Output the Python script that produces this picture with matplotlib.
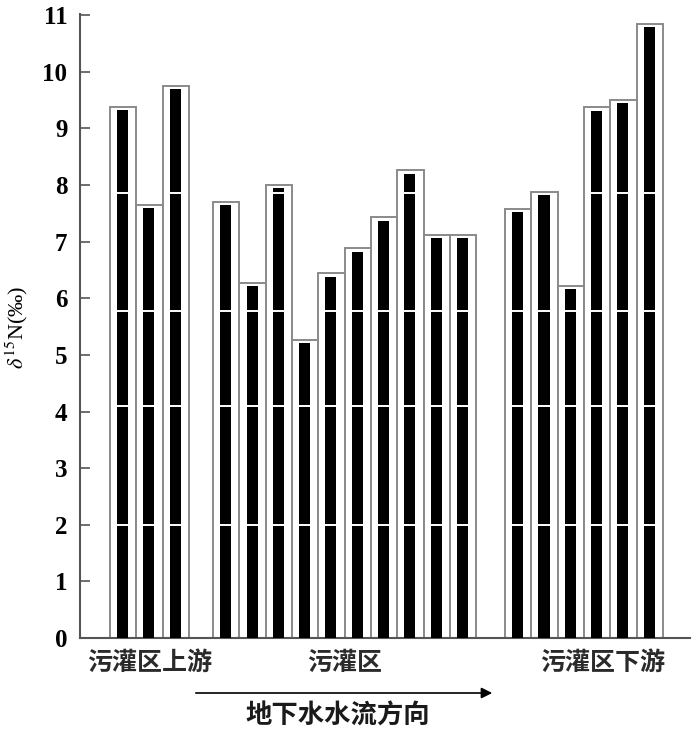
import numpy as np
import matplotlib
matplotlib.use('Agg')
import matplotlib.pyplot as plt

# δ15N 数值（按地下水流向排列）
upstream = [9.38, 7.65, 9.75]
irrigated = [7.70, 6.27, 8.00, 5.27, 6.44, 6.88, 7.43, 8.26, 7.12, 7.12]
downstream = [7.58, 7.88, 6.22, 9.37, 9.50, 10.85]
group_names = ['污灌区上游', '污灌区', '污灌区下游']
y_ticks = list(range(0, 12))

# 扫描图里的白色横线
scan_lines = [7.86, 5.77, 4.09, 2.0]

plt.rcParams['font.family'] = ['Liberation Serif', 'DejaVu Serif']
plt.rcParams['mathtext.fontset'] = 'stix'
cjk = ['Noto Sans CJK SC', 'DejaVu Sans']

fig = plt.figure(figsize=(7, 7.32), dpi=100)
ax = fig.add_axes([80/700, 94/732, 610/700, 624/732])

starts = [0.0, 3.92, 15.02]
xs, hs = [], []
for s, g in zip(starts, [upstream, irrigated, downstream]):
    xs += list(s + np.arange(len(g)))
    hs += g
xs = np.array(xs)
hs = np.array(hs)

ax.bar(xs, hs, width=1.0, color='white', edgecolor='#8a8a8a', linewidth=1.4, zorder=2)
ax.bar(xs - 0.02, hs - 0.06, width=0.42, color='black', linewidth=0, zorder=3)
for x, h in zip(xs, hs):
    lv = [v for v in scan_lines if v < h - 0.1]
    ax.hlines(lv, x - 0.25, x + 0.21, colors='white', linewidth=1.4, zorder=4)

ax.set_xlim(-1.64, 21.55)
ax.set_ylim(0, 11.02)
ax.set_yticks(y_ticks)
ax.set_xticks([])
for sp in ['top', 'right']:
    ax.spines[sp].set_visible(False)
for sp in ['left', 'bottom']:
    ax.spines[sp].set_color('#555555')
    ax.spines[sp].set_linewidth(1.5)
ax.tick_params(axis='y', direction='in', length=7, width=1.2, color='#555555',
               labelsize=18, pad=9)
for lab in ax.get_yticklabels():
    lab.set_fontweight('bold')

fig.text(17/700, 1 - 327/732, r'$\delta^{15}$N(‰)', rotation=90, ha='center', va='center',
         fontsize=16)

for xp, name in zip([150, 345, 603], group_names):
    fig.text(xp/700, 1 - 663/732, name, ha='center', va='center', fontsize=18,
             family=cjk, fontweight='bold', color='#2a2a2a')

ax.annotate('', xy=(495/700, 1 - 693/732), xytext=(193/700, 1 - 693/732),
            xycoords='figure fraction', textcoords='figure fraction',
            arrowprops=dict(arrowstyle='-|>', lw=1.2, color='black', mutation_scale=16))
fig.text(338/700, 1 - 716/732, '地下水水流方向', ha='center', va='center', fontsize=19,
         family=cjk, fontweight='bold', color='#1a1a1a')

fig.savefig('out.png', dpi=100)
